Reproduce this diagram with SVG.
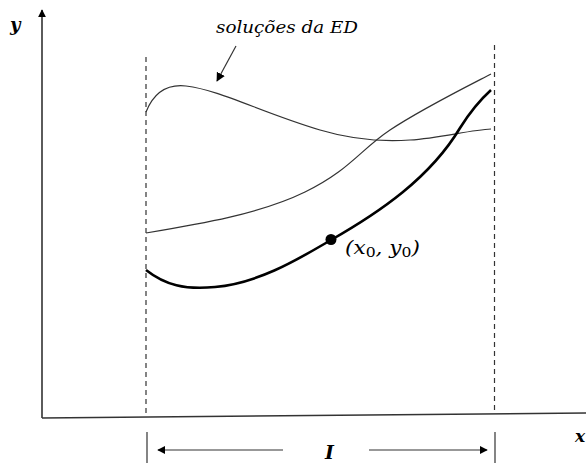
<svg xmlns="http://www.w3.org/2000/svg" width="587" height="463" viewBox="0 0 587 463">
<style>
.ax{stroke:#333;stroke-width:1.6;fill:none}
.dash{stroke:#333;stroke-width:1.2;stroke-dasharray:5,4;fill:none}
.thin{stroke:#333;stroke-width:1.2;fill:none}
.thick{stroke:#000;stroke-width:2.6;fill:none}
.lbl{font-family:"DejaVu Serif","Liberation Serif",serif;font-style:italic;fill:#000}
</style>
<defs>
<marker id="ah" viewBox="0 0 10 10" refX="9" refY="5" markerWidth="8" markerHeight="8" markerUnits="userSpaceOnUse" orient="auto">
<path d="M0,0 L10,5 L0,10 z" fill="#000"/>
</marker>
<marker id="ah2" viewBox="0 0 10 10" refX="9" refY="5" markerWidth="9" markerHeight="9" markerUnits="userSpaceOnUse" orient="auto">
<path d="M0,0 L10,5 L0,10 z" fill="#000"/>
</marker>
</defs>
<g id="axes">
<line class="ax" x1="42" y1="418" x2="42" y2="10" marker-end="url(#ah)"/>
<line class="ax" x1="42" y1="418" x2="586" y2="413"/>
<text class="lbl" x="10" y="31" font-size="18" font-weight="bold">y</text>
<text class="lbl" x="575" y="442" font-size="17" font-weight="bold">x</text>
</g>
<g id="interval">
<line class="dash" x1="146" y1="57" x2="146" y2="417"/>
<line class="dash" x1="494.5" y1="45" x2="494.5" y2="413"/>
<line class="thin" x1="147" y1="432" x2="147" y2="463"/>
<line class="thin" x1="495" y1="432" x2="495" y2="463"/>
<text class="lbl" x="325" y="459" font-size="19" font-weight="bold">I</text>
</g>
<g id="connectors">
<line class="thin" x1="283" y1="450" x2="158" y2="450" stroke-width="1.5" marker-end="url(#ah)"/>
<line class="thin" x1="369" y1="450" x2="487" y2="450" stroke-width="1.5" marker-end="url(#ah)"/>
<line class="thin" x1="236" y1="46" x2="217" y2="81" stroke="#000" stroke-width="2" marker-end="url(#ah2)"/>
</g>
<g id="label-solucoes">
<text class="lbl" x="216" y="33" font-size="16" textLength="142" lengthAdjust="spacingAndGlyphs">soluções da ED</text>
</g>
<g id="curve-top">
<path class="thin" d="M146,112 C154,92 168,84 186,86 C220,90 260,112 320,130 C350,139 380,142 410,140 C440,138 470,130 491,129"/>
</g>
<g id="curve-middle">
<path class="thin" d="M146,233 C200,224 260,214 305,192 C350,170 360,150 390,130 C420,110 460,90 491,74"/>
</g>
<g id="curve-solution">
<path class="thick" d="M146,270 C165,285 185,290 215,287 C260,283 300,258 331,240 C380,212 430,178 460,128 C470,112 480,100 491,90"/>
</g>
<g id="point">
<circle cx="331" cy="239.5" r="5.5" fill="#000"/>
<text class="lbl" x="345" y="254" font-size="18" textLength="75" lengthAdjust="spacingAndGlyphs">(<tspan>x</tspan><tspan font-style="normal" font-size="13" dy="3">0</tspan><tspan dy="-3">, y</tspan><tspan font-style="normal" font-size="13" dy="3">0</tspan><tspan dy="-3">)</tspan></text>
</g>
</svg>
